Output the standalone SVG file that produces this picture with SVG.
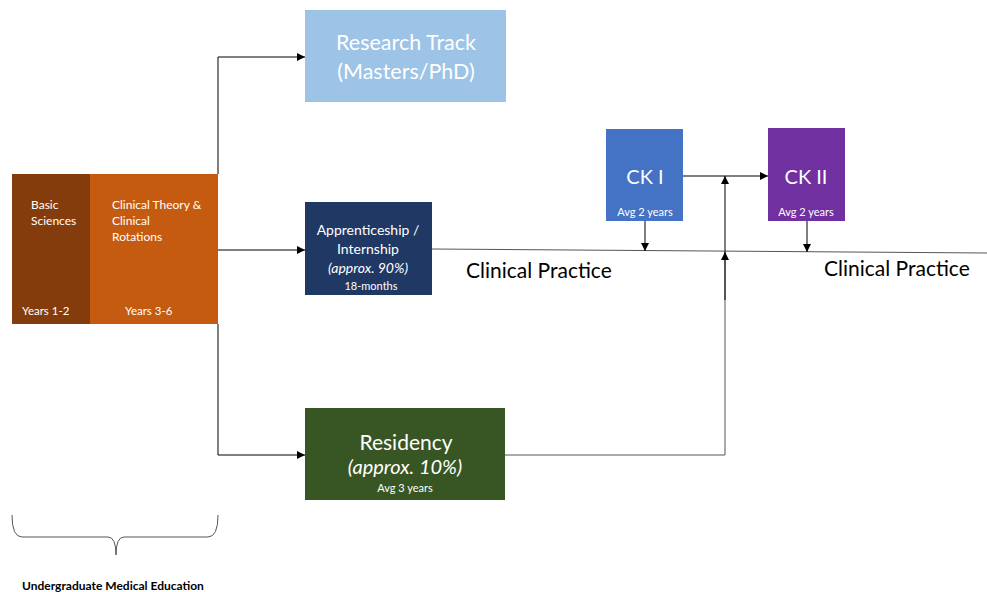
<svg xmlns="http://www.w3.org/2000/svg" width="987" height="592" viewBox="0 0 987 592">
<style>
text{font-family:Lato,"Open Sans","Liberation Sans",sans-serif;fill:#fff}
.c{text-anchor:middle}
.line{stroke:#000;stroke-width:1;fill:none}
.gline{stroke:#555;stroke-width:1;fill:none}
</style>
<defs>
<marker id="arr" viewBox="0 0 10 10" refX="10" refY="5" markerWidth="8" markerHeight="8" markerUnits="userSpaceOnUse" orient="auto">
<path d="M0,0 L10,5 L0,10 z" fill="#000"/>
</marker>
</defs>
<rect width="987" height="592" fill="#fff"/>
<g id="ume">
<rect x="12" y="174" width="78" height="150" fill="#843c0c"/>
<rect x="90" y="174" width="128" height="150" fill="#c55a11"/>
<text x="31" y="209" font-size="12">Basic</text>
<text x="31" y="225" font-size="12">Sciences</text>
<text x="112" y="209" font-size="12">Clinical Theory &amp;</text>
<text x="112" y="225" font-size="12">Clinical</text>
<text x="112" y="241" font-size="12">Rotations</text>
<text x="22" y="315" font-size="11.5">Years 1-2</text>
<text x="125" y="315" font-size="11.5">Years 3-6</text>
</g>
<g id="research">
<rect x="305" y="10" width="201" height="92" fill="#9dc3e6"/>
<text class="c" x="406" y="50" font-size="21.5">Research Track</text>
<text class="c" x="406" y="79" font-size="21.5">(Masters/PhD)</text>
</g>
<g id="apprenticeship">
<rect x="305" y="202" width="127" height="93" fill="#1f3864"/>
<text class="c" x="368" y="235" font-size="14">Apprenticeship /</text>
<text class="c" x="368" y="254" font-size="14">Internship</text>
<text class="c" x="368" y="273" font-size="14" font-style="italic">(approx. 90%)</text>
<text class="c" x="371" y="290" font-size="11">18-months</text>
</g>
<g id="residency">
<rect x="305" y="408" width="200" height="92" fill="#375623"/>
<text class="c" x="406" y="450" font-size="21">Residency</text>
<text class="c" x="405" y="474" font-size="20" font-style="italic">(approx. 10%)</text>
<text class="c" x="405" y="492" font-size="11">Avg 3 years</text>
</g>
<g id="ck1">
<rect x="606" y="129" width="77" height="92" fill="#4472c4"/>
<text class="c" x="645" y="184" font-size="20">CK I</text>
<text class="c" x="645" y="216" font-size="11">Avg 2 years</text>
</g>
<g id="ck2">
<rect x="768" y="128" width="77" height="93" fill="#7030a0"/>
<text class="c" x="806" y="184" font-size="20">CK II</text>
<text class="c" x="806" y="216" font-size="11">Avg 2 years</text>
</g>
<g id="labels">
<text x="466" y="278" font-size="21" style="fill:#000">Clinical Practice</text>
<text x="824" y="276" font-size="21" style="fill:#000">Clinical Practice</text>
<text x="22" y="590" font-size="12" font-weight="bold" style="fill:#000">Undergraduate Medical Education</text>
<path class="gline" d="M12,515 Q12,537 22,537 H108 Q116,537 116,555 Q116,537 124,537 H208 Q218,537 218,515"/>
</g>
<g id="connectors">
<path class="line" d="M218,174 V57 H305" marker-end="url(#arr)"/>
<path class="line" d="M218,250 H305" marker-end="url(#arr)"/>
<path class="line" d="M218,324 V455 H305" marker-end="url(#arr)"/>
<path class="gline" d="M432,249 L987,253"/>
<path class="line" d="M683,176 H768" marker-end="url(#arr)"/>
<path class="line" d="M645,221 V251" marker-end="url(#arr)"/>
<path class="line" d="M807,221 V252" marker-end="url(#arr)"/>
<path class="gline" d="M505,455 H725 V252"/>
<path class="line" d="M725,300 V252" marker-end="url(#arr)"/>
<path class="line" d="M725,252 V176" marker-end="url(#arr)"/>
</g>
</svg>
